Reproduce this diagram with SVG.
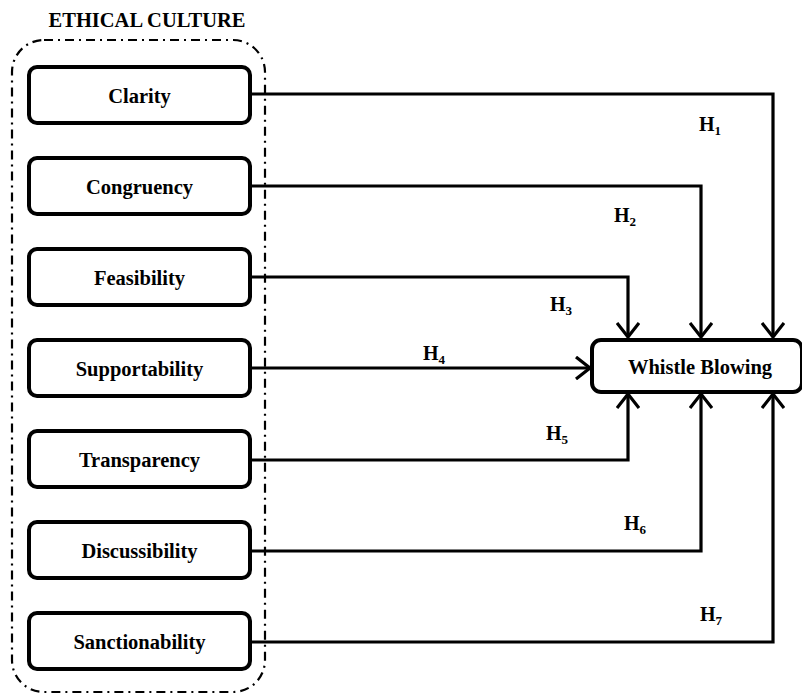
<svg xmlns="http://www.w3.org/2000/svg" width="802" height="695" viewBox="0 0 802 695">
<defs>
<style>
.box{fill:#fff;stroke:#000;stroke-width:4}
.t{font-family:"Liberation Serif","Times New Roman",serif;font-weight:bold;font-size:20.5px;fill:#000;text-anchor:middle;dominant-baseline:central}
.h{font-family:"Liberation Serif","Times New Roman",serif;font-weight:bold;font-size:20px;fill:#000}
.sub{font-size:13px}
.c{fill:none;stroke:#000;stroke-width:3.2;marker-end:url(#ah)}
</style>
<marker id="ah" viewBox="-16 -12 18 24" markerWidth="18" markerHeight="24" refX="0" refY="0" orient="auto" markerUnits="userSpaceOnUse">
<path d="M-14,-11 L0,0 L-14,11" fill="none" stroke="#000" stroke-width="3.2"/>
</marker>
</defs>
<rect width="802" height="695" fill="#fff"/>
<g id="container">
<text class="t" x="147" y="20">ETHICAL CULTURE</text>
<rect x="12" y="40" width="253" height="652" rx="32" ry="32" fill="none" stroke="#000" stroke-width="2.2" stroke-dasharray="9,5,2,5"/>
</g>
<g id="connectors">
<path class="c" d="M250,94 H773 V337"/>
<path class="c" d="M250,186 H701 V337"/>
<path class="c" d="M250,277 H628 V337"/>
<path class="c" d="M250,368 H590"/>
<path class="c" d="M250,460 H628 V394"/>
<path class="c" d="M250,551 H701 V394"/>
<path class="c" d="M250,642 H773 V394"/>
</g>
<g id="labels">
<text class="h" x="699" y="131">H<tspan class="sub" dy="4">1</tspan></text>
<text class="h" x="614" y="222">H<tspan class="sub" dy="4">2</tspan></text>
<text class="h" x="550" y="311">H<tspan class="sub" dy="4">3</tspan></text>
<text class="h" x="423" y="360">H<tspan class="sub" dy="4">4</tspan></text>
<text class="h" x="546" y="440">H<tspan class="sub" dy="4">5</tspan></text>
<text class="h" x="624" y="530">H<tspan class="sub" dy="4">6</tspan></text>
<text class="h" x="700" y="621">H<tspan class="sub" dy="4">7</tspan></text>
</g>
<g id="clarity"><rect class="box" x="29" y="67" width="221" height="56" rx="8"/><text class="t" x="139.5" y="96">Clarity</text></g>
<g id="congruency"><rect class="box" x="29" y="158" width="221" height="56" rx="8"/><text class="t" x="139.5" y="187">Congruency</text></g>
<g id="feasibility"><rect class="box" x="29" y="249" width="221" height="56" rx="8"/><text class="t" x="139.5" y="278">Feasibility</text></g>
<g id="supportability"><rect class="box" x="29" y="340" width="221" height="56" rx="8"/><text class="t" x="139.5" y="369">Supportability</text></g>
<g id="transparency"><rect class="box" x="29" y="431" width="221" height="56" rx="8"/><text class="t" x="139.5" y="460">Transparency</text></g>
<g id="discussibility"><rect class="box" x="29" y="522" width="221" height="56" rx="8"/><text class="t" x="139.5" y="551">Discussibility</text></g>
<g id="sanctionability"><rect class="box" x="29" y="613" width="221" height="56" rx="8"/><text class="t" x="139.5" y="642">Sanctionability</text></g>
<g id="whistle"><rect class="box" x="592" y="340" width="210" height="52" rx="9"/><text class="t" x="700" y="367">Whistle Blowing</text></g>
</svg>
